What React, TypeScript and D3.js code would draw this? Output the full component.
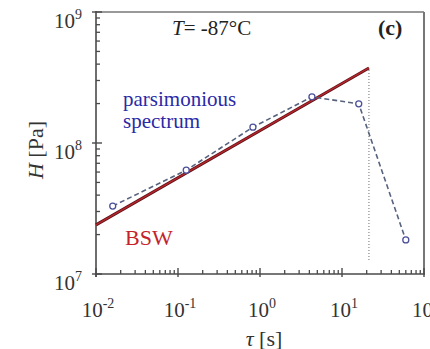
import React from "react";
import * as d3 from "d3";

const tauPoints = [0.016, 0.126, 0.82, 4.3, 16, 60];
const hPoints = [3.3e7, 6.2e7, 1.32e8, 2.25e8, 1.99e8, 1.82e7];
const bswTau = [0.01, 21.3];
const bswH = [2.37e7, 3.74e8];
const cutoffTau = 21.3;
const cutoffH = [1.28e7, 3.74e8];
const xTickExps = [-2, -1, 0, 1, 2];
const yTickExps = [7, 8, 9];

const W = 430;
const H = 349;
const left = 96, right = 424, top = 12, bottom = 274;

export default function App() {
  const x = d3.scaleLog().domain([0.01, 100]).range([left, right]);
  const y = d3.scaleLog().domain([1e7, 1e9]).range([bottom, top]);

  const xMinor: number[] = [];
  for (let e = -2; e < 2; e++) for (let m = 2; m <= 9; m++) xMinor.push(m * Math.pow(10, e));
  const yMinor: number[] = [];
  for (let e = 7; e < 9; e++) for (let m = 2; m <= 9; m++) yMinor.push(m * Math.pow(10, e));

  const line = d3.line<number>().x((_, i) => x(tauPoints[i])).y((d) => y(d));
  const bswLine = d3.line<number>().x((_, i) => x(bswTau[i])).y((d) => y(d));

  const serif = "'Liberation Serif', 'Times New Roman', 'DejaVu Serif', serif";
  const axisColor = "#4a4a4a";

  return (
    <svg width={W} height={H} style={{ position: "absolute", left: 0, top: 0, background: "#fff", fontFamily: serif }}>
      {/* frame */}
      <line x1={left} x2={right} y1={top} y2={top} stroke="#777" strokeWidth={1.6} />
      <line x1={right} x2={right} y1={top} y2={bottom} stroke="#777" strokeWidth={2} />
      <line x1={left} x2={right + 1} y1={bottom} y2={bottom} stroke={axisColor} strokeWidth={1.6} />
      <line x1={left} x2={left} y1={top - 1} y2={bottom + 3} stroke={axisColor} strokeWidth={1.6} />

      {/* x ticks */}
      {xMinor.map((v, i) => (
        <line key={"xm" + i} x1={x(v)} x2={x(v)} y1={bottom} y2={bottom - 4} stroke={axisColor} strokeWidth={1.3} />
      ))}
      {xTickExps.map((e) => (
        <line key={"xM" + e} x1={x(Math.pow(10, e))} x2={x(Math.pow(10, e))} y1={bottom + 3} y2={bottom - 6} stroke={axisColor} strokeWidth={1.4} />
      ))}
      {/* y ticks */}
      {yMinor.map((v, i) => (
        <line key={"ym" + i} x1={left} x2={left + 4} y1={y(v)} y2={y(v)} stroke={axisColor} strokeWidth={1.3} />
      ))}
      {yTickExps.map((e) => (
        <line key={"yM" + e} x1={left - 4} x2={left + 6} y1={y(Math.pow(10, e))} y2={y(Math.pow(10, e))} stroke={axisColor} strokeWidth={1.4} />
      ))}

      {/* x tick labels */}
      {xTickExps.map((e) => (
        <text key={"xl" + e} x={x(Math.pow(10, e)) + 2} y={317} textAnchor="middle" fontSize={21} fill="#333">
          10<tspan dy={-9} fontSize={14}>{e < 0 ? "-" + -e : String(e)}</tspan>
        </text>
      ))}
      {/* y tick labels */}
      {yTickExps.map((e) => (
        <text key={"yl" + e} x={82} y={y(Math.pow(10, e)) + 16} textAnchor="end" fontSize={21} fill="#333">
          10<tspan dy={-9} fontSize={14}>{String(e)}</tspan>
        </text>
      ))}

      {/* axis titles */}
      <text x={264} y={346} textAnchor="middle" fontSize={22} fill="#333">
        <tspan fontStyle="italic">τ</tspan> [s]
      </text>
      <text transform={`translate(43,150) rotate(-90)`} textAnchor="middle" fontSize={22} fill="#333">
        <tspan fontStyle="italic">H</tspan> [Pa]
      </text>

      {/* cutoff dotted line */}
      <line x1={x(cutoffTau)} x2={x(cutoffTau)} y1={y(cutoffH[0])} y2={y(cutoffH[1])} stroke="#888" strokeWidth={1.2} strokeDasharray="1,2" />

      {/* BSW line */}
      <path d={bswLine(bswH) || ""} fill="none" stroke="#5a1418" strokeWidth={3} />
      <path d={bswLine(bswH) || ""} fill="none" stroke="#b8242c" strokeWidth={1.4} />

      {/* parsimonious spectrum dashed */}
      <path d={line(hPoints) || ""} fill="none" stroke="#56627e" strokeWidth={1.6} strokeDasharray="5,3" />
      {tauPoints.map((t, i) => (
        <circle key={"c" + i} cx={x(t)} cy={y(hPoints[i])} r={3} fill="#fff" stroke="#4b4f9a" strokeWidth={1.3} />
      ))}

      {/* annotations */}
      <text x={172} y={35} fontSize={21} fill="#222">
        <tspan fontStyle="italic">T</tspan>= -87°C
      </text>
      <text x={378} y={35} fontSize={22} fontWeight="bold" fill="#222">(c)</text>
      <text x={123} y={106} fontSize={21} fill="#2a2aa6">parsimonious</text>
      <text x={123} y={128} fontSize={21} fill="#2a2aa6">spectrum</text>
      <text x={125} y={245} fontSize={22} fill="#c4232b">BSW</text>
    </svg>
  );
}
